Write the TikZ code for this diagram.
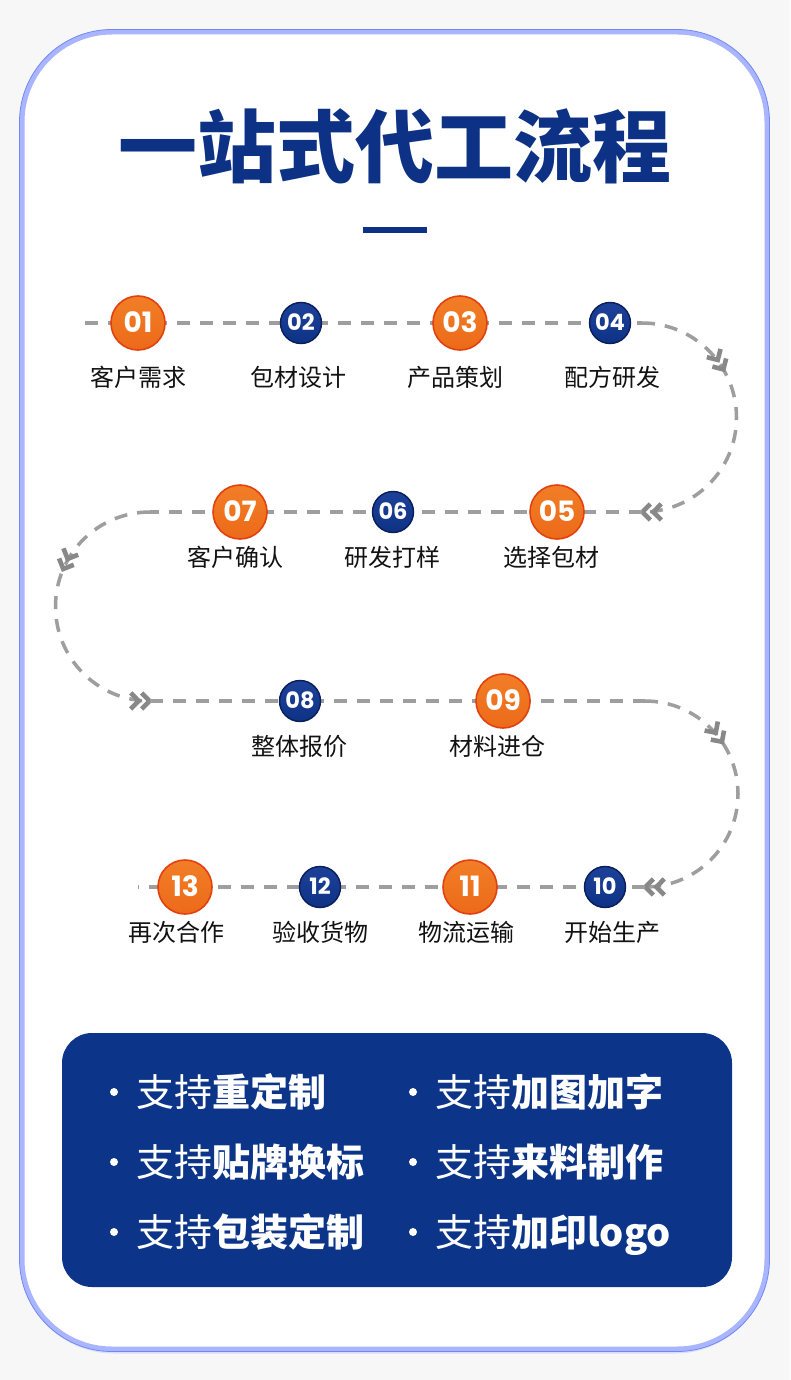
\documentclass[tikz,border=0pt]{standalone}
\usepackage{fontspec}
\usetikzlibrary{arrows.meta,decorations.markings}
\newfontfamily\cjk{Noto Sans CJK SC}
\newfontfamily\numf{Poppins}
\definecolor{Page}{HTML}{F7F7F7}
\definecolor{Rim}{HTML}{A9B5FF}
\definecolor{RimDark}{HTML}{7388F2}
\definecolor{Navy}{HTML}{0D3285}
\definecolor{NavyTop}{HTML}{1D4199}
\definecolor{NavyRim}{HTML}{0A1E5A}
\definecolor{Flame}{HTML}{F27E27}
\definecolor{FlameLow}{HTML}{EC6A19}
\definecolor{FlameRim}{HTML}{E2410F}
\definecolor{Track}{HTML}{9E9E9E}
\definecolor{Chev}{HTML}{888888}
\definecolor{Panel}{HTML}{0C3489}
\definecolor{Ink}{HTML}{121212}
\tikzset{
  track/.style={draw=Track,line width=3.5pt,dash pattern=on 13pt off 10pt},
  chevpair/.style={draw=Chev,line width=4.6pt,solid,line cap=butt,line join=miter},
  chev/.style={postaction={decorate,decoration={markings,
    mark=at position #1 with {\draw[chevpair] (-19,8) -- (-11,0) -- (-19,-8) (-8,8) -- (0,0) -- (-8,-8);},
    mark=at position .999 with {\draw[chevpair] (-19,8) -- (-11,0) -- (-19,-8) (-8,8) -- (0,0) -- (-8,-8);}}}},
  ball/.style={circle,inner sep=0pt,text=white},
  hot/.style={ball,minimum size=54pt,top color=Flame,bottom color=FlameLow,draw=FlameRim,line width=1.6pt,
              font=\numf\bfseries\fontsize{28}{28}\selectfont,text height=19.6pt,text depth=0pt},
  cool/.style={ball,minimum size=41pt,top color=NavyTop,bottom color=Navy,draw=NavyRim,line width=1.4pt,
               font=\numf\bfseries\fontsize{22.5}{22.5}\selectfont,text height=15.7pt,text depth=0pt},
  lbl/.style={font=\cjk\fontsize{24}{24}\selectfont,text=Ink,inner sep=0pt,text height=20.6pt,text depth=2.4pt},
  ttl/.style={font=\cjk\bfseries\fontsize{79}{79}\selectfont,text=Navy,inner sep=0pt,text height=68pt,text depth=8pt},
  item/.style={font=\cjk\fontsize{38}{38}\selectfont,text=white,anchor=west,inner sep=0pt,text height=32.7pt,text depth=3.8pt},
  pip/.style={circle,fill=white,minimum size=8pt,inner sep=0pt},
}
\begin{document}
\begin{tikzpicture}[x=1pt,y=1pt]
\useasboundingbox (0,0) rectangle (790,-1380);
\fill[Page] (0,0) rectangle (790,-1380);
% card with soft lavender rim
\draw[Rim!45,line width=3pt,rounded corners=92pt] (22,-35) rectangle (767,-1352);
\draw[Rim,line width=5pt,fill=white,rounded corners=90pt] (22,-32) rectangle (767,-1349);
\draw[RimDark,line width=.8pt,rounded corners=92.5pt] (19.5,-29.5) rectangle (769.5,-1351.5);
\node[ttl] (title) at (395,-147) {一站式代工流程};
\fill[Navy] (363,-227) rectangle (427,-233);
% snake track, bends carry the chevrons
\coordinate (head) at (85,-323); \coordinate (b1a) at (642,-323); \coordinate (b1b) at (642,-512);
\coordinate (b2a) at (150,-512); \coordinate (b2b) at (150,-701);
\coordinate (b3a) at (645,-701); \coordinate (b3b) at (645,-887); \coordinate (tail) at (138,-887);
\draw[track] (head) -- (b1a); \draw[track,chev=.33] (b1a) arc[start angle=90,end angle=-90,radius=94.5];
\draw[track] (b1b) -- (b2a); \draw[track,chev=.37] (b2a) arc[start angle=90,end angle=270,radius=94.5];
\draw[track] (b2b) -- (b3a); \draw[track,chev=.31] (b3a) arc[start angle=90,end angle=-90,radius=93];
\draw[track] (b3b) -- (tail);
% steps
\node[hot] (s01) at (138,-323) {01}; \node[cool] (s02) at (301,-323) {02};
\node[hot] (s03) at (460,-323) {03}; \node[cool] (s04) at (610,-323) {04};
\node[hot] (s05) at (557,-512) {05}; \node[cool] (s06) at (393,-512) {06}; \node[hot] (s07) at (240,-512) {07};
\node[cool] (s08) at (300,-701) {08}; \node[hot] (s09) at (503,-701) {09};
\node[cool] (s10) at (605,-887) {10}; \node[hot] (s11) at (470,-887) {11};
\node[cool] (s12) at (320,-887) {12}; \node[hot] (s13) at (185,-887) {13};
\node[lbl] (l01) at (138,-377) {客户需求}; \node[lbl] (l02) at (298,-377) {包材设计};
\node[lbl] (l03) at (455,-377) {产品策划}; \node[lbl] (l04) at (612,-377) {配方研发};
\node[lbl] (l05) at (551,-557) {选择包材}; \node[lbl] (l06) at (392,-557) {研发打样}; \node[lbl] (l07) at (235,-557) {客户确认};
\node[lbl] (l08) at (299,-746) {整体报价}; \node[lbl] (l09) at (497,-746) {材料进仓};
\node[lbl] (l10) at (612,-932) {开始生产}; \node[lbl] (l11) at (466,-932) {物流运输};
\node[lbl] (l12) at (320,-932) {验收货物}; \node[lbl] (l13) at (176,-932) {再次合作};
% service panel
\fill[Panel,rounded corners=30pt] (62,-1033) rectangle (732,-1287);
\node[pip] (p1) at (114,-1092) {}; \node[item] (f1) at (136,-1092) {支持\textbf{重定制}};
\node[pip] (p2) at (114,-1162) {}; \node[item] (f2) at (136,-1162) {支持\textbf{贴牌换标}};
\node[pip] (p3) at (114,-1232) {}; \node[item] (f3) at (136,-1232) {支持\textbf{包装定制}};
\node[pip] (p4) at (413,-1092) {}; \node[item] (f4) at (435,-1092) {支持\textbf{加图加字}};
\node[pip] (p5) at (413,-1162) {}; \node[item] (f5) at (435,-1162) {支持\textbf{来料制作}};
\node[pip] (p6) at (413,-1232) {}; \node[item] (f6) at (435,-1232) {支持\textbf{加印logo}};
\end{tikzpicture}
\end{document}
